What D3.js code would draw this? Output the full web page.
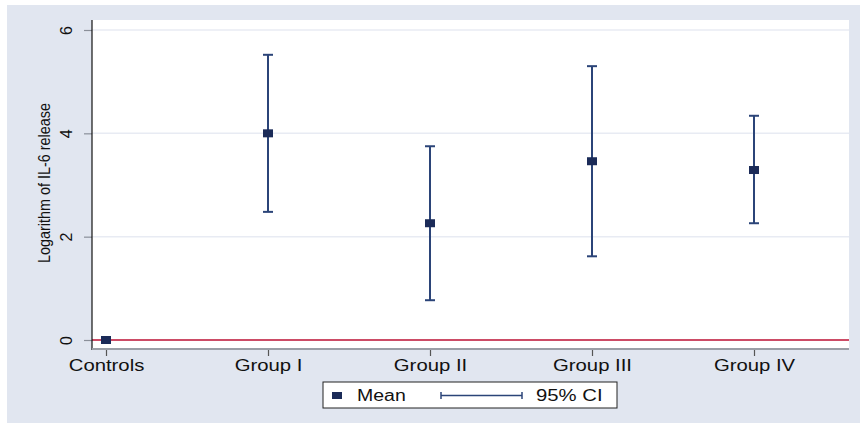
<!DOCTYPE html>
<html>
<head>
<meta charset="utf-8">
<script src="https://cdn.jsdelivr.net/npm/d3@7"></script>
<style>
  html, body { margin: 0; padding: 0; background: #ffffff; }
  svg { display: block; font-family: "Liberation Sans", Arial, Helvetica, sans-serif; }
</style>
</head>
<body>
<svg id="chart" width="860" height="423"></svg>
<script>
// Groups and their log IL-6 estimates
const groups = ["Controls", "Group I", "Group II", "Group III", "Group IV"];
const means  = [0, 4.00, 2.26, 3.46, 3.29];
const ciLow  = [null, 2.48, 0.77, 1.62, 2.26];
const ciHigh = [null, 5.52, 3.75, 5.30, 4.34];
const yTicks = [0, 2, 4, 6];

const W = 860, H = 423;
const plot = { left: 92, right: 849, top: 20, bottom: 349 };
const wide = 1.27; // horizontal stretch of the label typeface

const svg = d3.select("#chart");

// Outer panel
svg.append("rect").attr("x", 7).attr("y", 5).attr("width", W - 7).attr("height", H - 5)
  .attr("fill", "#e1e6f0");
// Plot region
svg.append("rect").attr("x", plot.left).attr("y", plot.top)
  .attr("width", plot.right - plot.left).attr("height", plot.bottom - plot.top)
  .attr("fill", "#ffffff");

const y = d3.scaleLinear().domain([0, 6]).range([340, 30]);
const x = d3.scalePoint().domain(groups).range([106, 754]);

// Horizontal grid lines
svg.append("g").selectAll("line").data(yTicks.filter(t => t > 0)).join("line")
  .attr("x1", plot.left).attr("x2", plot.right)
  .attr("y1", d => y(d)).attr("y2", d => y(d))
  .attr("stroke", "#e8ebf3").attr("stroke-width", 1.5);

// Reference line at zero
svg.append("line").attr("x1", plot.left).attr("x2", plot.right)
  .attr("y1", y(0)).attr("y2", y(0))
  .attr("stroke", "#bb1133").attr("stroke-width", 1.5);

// Y axis
const yAxis = d3.axisLeft(y).tickValues(yTicks).tickSize(8).tickPadding(0).tickFormat(d3.format("d"));
const gy = svg.append("g").attr("transform", `translate(${plot.left},0)`).call(yAxis);
gy.select(".domain").remove();
gy.selectAll(".tick line").attr("stroke", "#8a8f99").attr("stroke-width", 1.2);
gy.selectAll(".tick text")
  .attr("x", 0).attr("y", 0)
  .attr("transform", "translate(-26,0) rotate(-90)")
  .attr("text-anchor", "middle")
  .attr("dy", "0.36em")
  .attr("font-size", 16)
  .attr("fill", "#111");
svg.append("line").attr("x1", plot.left).attr("x2", plot.left)
  .attr("y1", plot.top).attr("y2", plot.bottom + 1)
  .attr("stroke", "#111").attr("stroke-width", 1.2);

// X axis
const xAxis = d3.axisBottom(x).tickSize(7).tickPadding(3);
const gx = svg.append("g").attr("transform", `translate(0,${plot.bottom})`).call(xAxis);
gx.select(".domain").remove();
gx.selectAll(".tick line").attr("stroke", "#555").attr("stroke-width", 1.2);
gx.selectAll(".tick text")
  .attr("font-size", 16).attr("fill", "#111")
  .attr("x", 0).attr("y", 22).attr("dy", null)
  .attr("transform", `scale(${wide},1)`);
svg.append("line").attr("x1", plot.left).attr("x2", plot.right)
  .attr("y1", plot.bottom).attr("y2", plot.bottom)
  .attr("stroke", "#9a9ea6").attr("stroke-width", 2);

// Y axis title
svg.append("text")
  .attr("transform", `translate(50,183) rotate(-90)`)
  .attr("text-anchor", "middle")
  .attr("font-size", 16.5)
  .attr("textLength", 160)
  .attr("lengthAdjust", "spacingAndGlyphs")
  .attr("fill", "#111")
  .text("Logarithm of IL-6 release");

// Confidence intervals
const ciColor = "#2b4478";
const capW = 10;
const ci = groups.map((g, i) => ({ g, lo: ciLow[i], hi: ciHigh[i] })).filter(d => d.lo !== null);
const gci = svg.append("g");
gci.selectAll("line.stem").data(ci).join("line").attr("class", "stem")
  .attr("x1", d => x(d.g)).attr("x2", d => x(d.g))
  .attr("y1", d => y(d.lo)).attr("y2", d => y(d.hi))
  .attr("stroke", ciColor).attr("stroke-width", 2);
["lo", "hi"].forEach(k => {
  gci.selectAll(`line.cap-${k}`).data(ci).join("line").attr("class", `cap-${k}`)
    .attr("x1", d => x(d.g) - capW / 2).attr("x2", d => x(d.g) + capW / 2)
    .attr("y1", d => y(d[k])).attr("y2", d => y(d[k]))
    .attr("stroke", ciColor).attr("stroke-width", 2);
});

// Mean markers
const mW = 10, mH = 8;
svg.append("g").selectAll("rect").data(groups.map((g, i) => ({ g, m: means[i] }))).join("rect")
  .attr("x", d => x(d.g) - mW / 2).attr("y", d => y(d.m) - mH / 2)
  .attr("width", mW).attr("height", mH)
  .attr("fill", "#1b2b58");

// Legend
const lg = svg.append("g").attr("transform", "translate(323,382)");
lg.append("rect").attr("width", 294).attr("height", 26)
  .attr("fill", "#ffffff").attr("stroke", "#222").attr("stroke-width", 1);
lg.append("rect").attr("x", 9).attr("y", 10).attr("width", 10).attr("height", 7).attr("fill", "#1b2b58");
lg.append("g").attr("transform", "translate(34,19)")
  .append("text").attr("font-size", 16).attr("fill", "#111")
  .attr("transform", `scale(${wide * 0.96},1)`).text("Mean");
lg.append("line").attr("x1", 118).attr("x2", 199).attr("y1", 13.5).attr("y2", 13.5)
  .attr("stroke", ciColor).attr("stroke-width", 1.5);
[118, 199].forEach(px => lg.append("line").attr("x1", px).attr("x2", px).attr("y1", 10).attr("y2", 17)
  .attr("stroke", ciColor).attr("stroke-width", 1.5));
lg.append("g").attr("transform", "translate(213,19)")
  .append("text").attr("font-size", 16).attr("fill", "#111")
  .attr("transform", `scale(${wide},1)`).text("95% CI");
</script>
</body>
</html>
